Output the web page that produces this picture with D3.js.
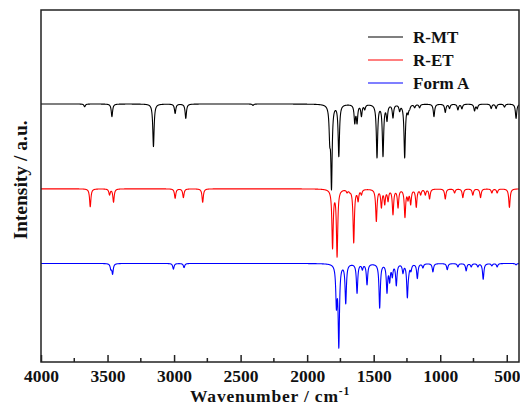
<!DOCTYPE html>
<html><head><meta charset="utf-8">
<script src="https://cdn.jsdelivr.net/npm/d3@7"></script>
<style>body{margin:0;background:#fff}svg{display:block}</style>
</head><body>
<script>
// ---------- data ----------
const seriesNames = ["R-MT", "R-ET", "Form A"];
const xTickValues = [4000, 3500, 3000, 2500, 2000, 1500, 1000, 500];
const xMinorTicks = [3750, 3250, 2750, 2250, 1750, 1250, 750];

// baseline levels (arbitrary intensity units)
const rmtBase = 73.3, retBase = 49.2, formABase = 28.0;

// band positions (cm-1) and band minimum intensities
const rmtWave = [3672,3467,3155,2992,2912,2407,1830,1817,1762,1642,1625,1592,1567,1475,1430,1400,1355,1305,1267,1242,1230,1192,1155,1047,962,930,867,837,742,722,617,580,517,430];
const rmtMin  = [72.5,69.7,61.2,70.6,69.2,72.9,61.1,48.9,58.3,67.6,67.6,69.7,71.6,58.0,58.3,68.3,69.3,71.1,58.0,70.2,71.6,72.2,72.2,69.7,70.9,72.0,71.6,71.9,71.3,71.9,72.0,72.0,72.4,69.2];

const retWave = [3630,3485,3455,2992,2930,2785,1809,1775,1755,1700,1680,1650,1617,1592,1480,1442,1417,1392,1355,1317,1265,1242,1222,1180,1147,1112,1080,962,892,830,755,697,612,572,480];
const retMin  = [44.1,47.4,45.4,46.5,46.7,45.4,32.1,29.8,47.4,48.0,48.0,33.8,45.5,47.4,39.9,43.7,44.6,45.5,41.8,43.7,41.0,45.7,44.6,43.9,47.4,47.4,46.3,46.3,48.0,46.7,47.4,46.7,48.0,48.0,43.9];

const formAWave = [3475,3462,3005,2925,1780,1762,1710,1625,1585,1550,1455,1400,1380,1360,1330,1280,1247,1237,1220,1172,1130,1055,947,867,805,767,717,677,612,572,430];
const formAMin  = [26.1,24.9,26.4,26.8,14.7,3.9,16.5,19.5,26.1,21.9,15.3,19.5,22.4,23.9,21.6,25.1,18.2,24.1,25.6,23.7,26.7,25.6,26.2,27.0,25.9,27.0,27.0,23.5,27.3,27.0,27.6];

const seriesColors = ["#000000", "#ff0000", "#0000ff"];

// ---------- build spectra ----------
const HW = 6; // band half-width (cm-1)
const lor = d => 1 / (1 + (d / HW) * (d / HW));

function solve(M, b) {
  const n = b.length, A = M.map((r, i) => r.concat([b[i]]));
  for (let c = 0; c < n; c++) {
    let p = c;
    for (let r = c + 1; r < n; r++) if (Math.abs(A[r][c]) > Math.abs(A[p][c])) p = r;
    [A[c], A[p]] = [A[p], A[c]];
    for (let r = 0; r < n; r++) {
      if (r === c) continue;
      const f = A[r][c] / A[c][c];
      for (let k = c; k <= n; k++) A[r][k] -= f * A[c][k];
    }
  }
  return A.map((r, i) => Math.max(0, r[n] / r[i]));
}

function spectrum(base, waves, mins) {
  const depth = mins.map(m => base - m);
  const M = waves.map(wi => waves.map(wj => lor(wi - wj)));
  const amp = solve(M, depth);
  const pts = [];
  for (let w = 4000; w >= 400; w -= 1) {
    let v = base;
    for (let j = 0; j < waves.length; j++) v -= amp[j] * lor(w - waves[j]);
    pts.push([w, v]);
  }
  return pts;
}

const spectra = [
  spectrum(rmtBase, rmtWave, rmtMin),
  spectrum(retBase, retWave, retMin),
  spectrum(formABase, formAWave, formAMin)
];

// ---------- draw ----------
const W = 520, H = 406;
const m = {left: 41, right: 1, top: 10, bottom: 44};
const svg = d3.select("body").append("svg").attr("width", W).attr("height", H);

const x = d3.scaleLinear().domain([4000, 408]).range([m.left, W - m.right]);
const y = d3.scaleLinear().domain([0, 100]).range([H - m.bottom, m.top]);

svg.append("clipPath").attr("id", "clip").append("rect")
  .attr("x", m.left).attr("y", m.top)
  .attr("width", W - m.right - m.left).attr("height", H - m.bottom - m.top);

const line = d3.line().x(d => x(d[0])).y(d => y(d[1]));
const g = svg.append("g").attr("clip-path", "url(#clip)");
spectra.forEach((s, i) => {
  g.append("path").datum(s).attr("d", line)
    .attr("fill", "none").attr("stroke", seriesColors[i])
    .attr("stroke-width", 1.1).attr("stroke-linejoin", "round");
});

// frame
svg.append("rect").attr("x", m.left).attr("y", m.top)
  .attr("width", W - m.right - m.left).attr("height", H - m.bottom - m.top)
  .attr("fill", "none").attr("stroke", "#222").attr("stroke-width", 1.5);

// bottom axis (inward ticks)
const font = "'Liberation Serif','Times New Roman',serif";
const ax = svg.append("g").attr("transform", `translate(0,${H - m.bottom})`)
  .call(d3.axisBottom(x).tickValues(xTickValues).tickSize(-7).tickPadding(8).tickFormat(d3.format("d")));
ax.select(".domain").remove();
ax.selectAll(".tick line").attr("stroke", "#222").attr("stroke-width", 1.5);
ax.selectAll("text").attr("font-family", font).attr("font-weight", "bold")
  .attr("font-size", 17.5).attr("fill", "#111");
svg.append("g").attr("transform", `translate(0,${H - m.bottom})`)
  .selectAll("line").data(xMinorTicks).join("line")
  .attr("x1", d => x(d)).attr("x2", d => x(d)).attr("y1", 0).attr("y2", -4)
  .attr("stroke", "#222").attr("stroke-width", 1.5);

// axis titles
const xt = svg.append("text").attr("x", 270).attr("y", 402).attr("text-anchor", "middle")
  .attr("font-family", font).attr("font-weight", "bold").attr("font-size", 17.5)
  .attr("letter-spacing", 0.8).attr("fill", "#111");
xt.append("tspan").text("Wavenumber / cm");
xt.append("tspan").attr("dy", -7).attr("font-size", 11.5).text("-1");

svg.append("text").attr("transform", "translate(27,180) rotate(-90)")
  .attr("text-anchor", "middle").attr("font-family", font).attr("font-weight", "bold")
  .attr("font-size", 19.5).attr("fill", "#111").text("Intensity / a.u.");

// legend
const lg = svg.append("g");
seriesNames.forEach((n, i) => {
  const yy = 37 + i * 23;
  lg.append("line").attr("x1", 368).attr("x2", 403).attr("y1", yy).attr("y2", yy)
    .attr("stroke", seriesColors[i]).attr("stroke-width", 1.1);
  lg.append("text").attr("x", 413).attr("y", yy + 6).attr("font-family", font)
    .attr("font-weight", "bold").attr("font-size", 17).attr("fill", "#111").text(n);
});
</script>
</body></html>
